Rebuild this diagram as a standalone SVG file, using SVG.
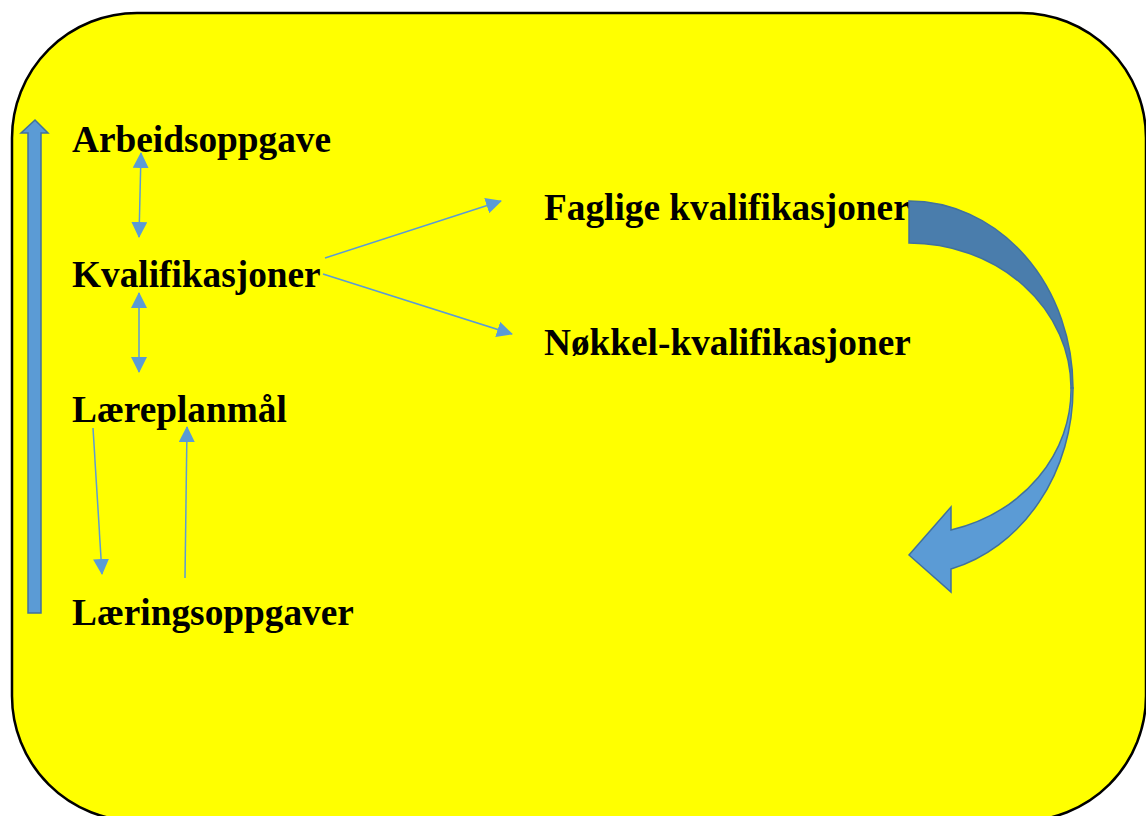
<svg xmlns="http://www.w3.org/2000/svg" width="1146" height="816" viewBox="0 0 1146 816">
  <defs>
    <style>
      .label { font-family: "Liberation Serif", "Times New Roman", serif; font-weight: bold; font-size: 37.3px; fill: #000; }
      .thin { stroke: #5B9BD5; stroke-width: 1.5; fill: none; }
      .block { fill: #5B9BD5; stroke: #41719C; stroke-width: 1.5; }
    </style>
    <marker id="tip" viewBox="0 0 16 16" refX="15" refY="8" markerWidth="16" markerHeight="16" markerUnits="userSpaceOnUse" orient="auto-start-reverse">
      <path d="M0,0 L16,8 L0,16 Z" fill="#5B9BD5"/>
    </marker>
  </defs>

  <!-- background panel -->
  <rect x="12" y="13" width="1134" height="808" rx="125" ry="125" fill="#FFFF00" stroke="#000" stroke-width="2.5"/>

  <!-- wide upward arrow on the left -->
  <g id="progress-arrow">
    <path class="block" d="M28,613 L28,133 L21,133 L35,120 L48,133 L41,133 L41,613 Z"/>
  </g>

  <g id="arbeidsoppgave"><text class="label" x="72" y="152">Arbeidsoppgave</text></g>
  <g id="kvalifikasjoner"><text class="label" x="72" y="287">Kvalifikasjoner</text></g>
  <g id="læreplanmål"><text class="label" x="72" y="422">Læreplanmål</text></g>
  <g id="læringsoppgaver"><text class="label" x="72" y="625">Læringsoppgaver</text></g>
  <g id="faglige"><text class="label" x="544" y="220">Faglige kvalifikasjoner</text></g>
  <g id="nøkkel"><text class="label" x="544" y="355">Nøkkel-kvalifikasjoner</text></g>

  <!-- connectors -->
  <g id="connectors">
    <line class="thin" x1="141" y1="153" x2="139" y2="237" marker-start="url(#tip)" marker-end="url(#tip)"/>
    <line class="thin" x1="139" y1="293" x2="139" y2="372" marker-start="url(#tip)" marker-end="url(#tip)"/>
    <line class="thin" x1="93" y1="428" x2="102" y2="574" marker-end="url(#tip)"/>
    <line class="thin" x1="185" y1="578" x2="187" y2="427" marker-end="url(#tip)"/>
    <line class="thin" x1="325" y1="258" x2="501" y2="201" marker-end="url(#tip)"/>
    <line class="thin" x1="323" y1="274" x2="512" y2="334" marker-end="url(#tip)"/>
  </g>

  <!-- curved return arrow on the right -->
  <g id="curved-arrow">
    <path d="M909,201 A164,187 0 0 1 1073,388 L1071,388 A162,145 0 0 0 909,243 Z" fill="#4A7DAC" stroke="#41719C" stroke-width="1.5"/>
    <path class="block" d="M1073,388 A164,187 0 0 1 951,569 L951,592 L909,555 L951,507 L951,530 A162,145 0 0 0 1071,388 Z"/>
  </g>
</svg>
